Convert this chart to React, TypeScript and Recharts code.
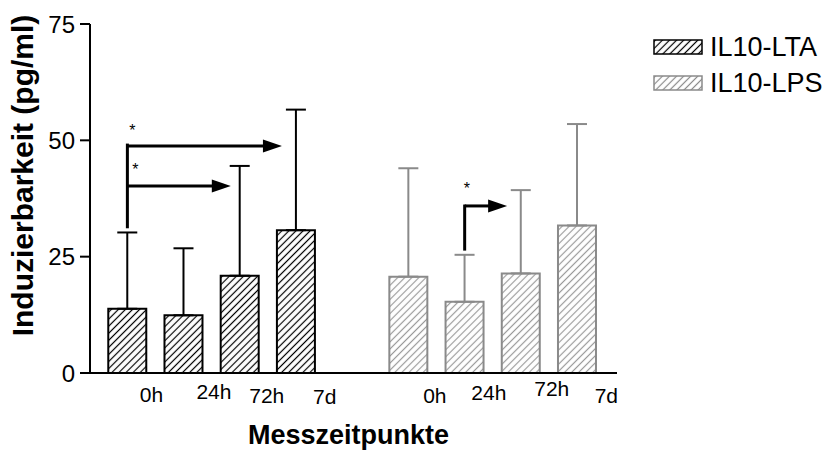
import React from 'react';
import { BarChart, Bar, XAxis, YAxis, ErrorBar, ReferenceLine, ReferenceDot, Legend, Label } from 'recharts';

const FONT = '"Liberation Sans", Arial, Helvetica, sans-serif';

// values
const timepoints = ['0h', '24h', '72h', '7d'];
const ltaPos = [0, 1, 2, 3];
const lpsPos = [5, 6, 7, 8];
const ltaMean = [13.8, 12.4, 20.9, 30.7];
const ltaSd = [16.4, 14.4, 23.6, 25.9];
const lpsMean = [20.7, 15.3, 21.4, 31.7];
const lpsSd = [23.3, 10.1, 17.9, 21.8];

const yTicks = [0, 25, 50, 75];
// x tick labels sit a bit off the bars in the original
const labelPos = [0.43, 1.54, 2.48, 3.51, 5.47, 6.43, 7.55, 8.52];
const labelText = [...timepoints, ...timepoints];
const labelDy = [21, 18, 22, 23, 22, 19, 15, 22];

// significance brackets
const stems = [
  { x: 0, y0: 31.1, y1: 49.3 },
  { x: 6, y0: 26.3, y1: 36.2 },
];
const arrows = [
  { x0: 0, x1: 2.75, y: 48.8 },
  { x0: 0, x1: 1.84, y: 40.2 },
  { x0: 6, x1: 6.755, y: 35.9 },
];
const stars = [
  { x: 0.09, y: 52.6 },
  { x: 0.14, y: 44.3 },
  { x: 6.04, y: 40.2 },
];

const data = [
  ...ltaPos.map((pos, i) => ({ pos, lta: ltaMean[i], ltaErr: [0, ltaSd[i]] })),
  ...lpsPos.map((pos, i) => ({ pos, lps: lpsMean[i], lpsErr: [0, lpsSd[i]] })),
];

const X_DOMAIN: [number, number] = [-0.665, 8.71];

const GRAY = '#8a8a8a';
const legendOrder = ['lta', 'lps'];

const Arrow = (props: any) => {
  const { x1, y1, x2, y2 } = props;
  const head = 19;
  const half = 6.5;
  return (
    <g>
      <line x1={x1} y1={y1} x2={x2 - head + 1} y2={y2} stroke="#000" strokeWidth={3} />
      <polygon points={`${x2},${y2} ${x2 - head},${y2 - half} ${x2 - head},${y2 + half}`} fill="#000" />
    </g>
  );
};

const Star = (props: any) => (
  <text x={props.cx} y={props.cy + 8} textAnchor="middle" fontSize={16} fontFamily={FONT} fill="#000">
    *
  </text>
);

const XTick = (props: any) => {
  const { x, y, index } = props;
  return (
    <text x={x} y={y + labelDy[index]} textAnchor="middle" fontSize={21} fontFamily={FONT} fill="#000">
      {labelText[index]}
    </text>
  );
};

const hatchColor: Record<string, string> = { lta: '#000', lps: GRAY };

const renderLegend = (props: any) => {
  const payload = [...(props.payload || [])].sort(
    (a: any, b: any) => legendOrder.indexOf(a.dataKey) - legendOrder.indexOf(b.dataKey)
  );
  return (
    <div style={{ fontFamily: FONT }}>
      {payload.map((entry: any) => {
        const c = hatchColor[entry.dataKey];
        const id = `lg-${entry.dataKey}`;
        return (
          <div key={entry.value} style={{ display: 'flex', alignItems: 'center', height: 36 }}>
            <svg width={50} height={16} style={{ marginRight: 7 }}>
              <defs>
                <pattern id={id} patternUnits="userSpaceOnUse" width="5" height="5" patternTransform="rotate(45)">
                  <line x1="2.5" y1="0" x2="2.5" y2="5" stroke={c} strokeWidth="1.2" />
                </pattern>
              </defs>
              <rect x={1} y={1} width={48} height={14} fill={`url(#${id})`} stroke={c} strokeWidth={1.5} />
            </svg>
            <span style={{ fontSize: 27, color: '#000', lineHeight: 1 }}>{entry.value}</span>
          </div>
        );
      })}
    </div>
  );
};

export default function App() {
  return (
    <div style={{ width: 832, height: 450, background: '#fff' }}>
      <style>{'body{margin:0}'}</style>
      <BarChart width={832} height={450} data={data} margin={{ top: 24, right: 215, bottom: 0, left: 0 }}>
        <defs>
          <pattern id="hatchLta" patternUnits="userSpaceOnUse" width="5" height="5" patternTransform="rotate(45)">
            <line x1="2.5" y1="0" x2="2.5" y2="5" stroke="#000" strokeWidth="1.2" />
          </pattern>
          <pattern id="hatchLps" patternUnits="userSpaceOnUse" width="5" height="5" patternTransform="rotate(45)">
            <line x1="2.5" y1="0" x2="2.5" y2="5" stroke="#9a9a9a" strokeWidth="1.2" />
          </pattern>
        </defs>
        <XAxis xAxisId="lps" dataKey="pos" type="number" domain={X_DOMAIN} allowDataOverflow hide height={0} />
        <XAxis
          xAxisId="lta"
          dataKey="pos"
          type="number"
          domain={X_DOMAIN}
          allowDataOverflow
          ticks={labelPos}
          interval={0}
          tick={<XTick />}
          tickLine={false}
          axisLine={{ stroke: '#000', strokeWidth: 2 }}
          height={77}
        >
          <Label
            content={(p: any) => {
              const vb = p.viewBox;
              return (
                <text x={vb.x + vb.width / 2 - 5} y={vb.y + 71} textAnchor="middle" fontSize={27} fontWeight="bold" fontFamily={FONT} fill="#000">
                  Messzeitpunkte
                </text>
              );
            }}
          />
        </XAxis>
        <YAxis
          domain={[0, 75]}
          ticks={yTicks}
          interval={0}
          width={90}
          tickSize={10}
          tickMargin={5}
          axisLine={{ stroke: '#000', strokeWidth: 2 }}
          tickLine={{ stroke: '#000', strokeWidth: 2 }}
          tick={{ fill: '#000', fontSize: 24, fontFamily: FONT }}
        >
          <Label
            content={(p: any) => {
              const vb = p.viewBox;
              const cx = vb.x + 33;
              const cy = vb.y + vb.height / 2 - 23;
              return (
                <text x={cx} y={cy} transform={`rotate(-90, ${cx}, ${cy})`} textAnchor="middle" fontSize={30} fontWeight="bold" fontFamily={FONT} fill="#000">
                  Induzierbarkeit (pg/ml)
                </text>
              );
            }}
          />
        </YAxis>
        <Bar xAxisId="lta" dataKey="lta" name="IL10-LTA" barSize={38} fill="url(#hatchLta)" stroke="#000" strokeWidth={2} isAnimationActive={false}>
          <ErrorBar dataKey="ltaErr" direction="y" width={10} stroke="#000" strokeWidth={2} isAnimationActive={false} />
        </Bar>
        <Bar xAxisId="lps" dataKey="lps" name="IL10-LPS" barSize={38} fill="url(#hatchLps)" stroke={GRAY} strokeWidth={2} isAnimationActive={false}>
          <ErrorBar dataKey="lpsErr" direction="y" width={10} stroke={GRAY} strokeWidth={2} isAnimationActive={false} />
        </Bar>
        {stems.map((s, i) => (
          <ReferenceLine
            key={`stem${i}`}
            xAxisId="lta"
            segment={[{ x: s.x, y: s.y0 }, { x: s.x, y: s.y1 }]}
            stroke="#000"
            strokeWidth={3}
          />
        ))}
        {arrows.map((a, i) => (
          <ReferenceLine
            key={`arr${i}`}
            xAxisId="lta"
            segment={[{ x: a.x0, y: a.y }, { x: a.x1, y: a.y }]}
            shape={Arrow}
          />
        ))}
        {stars.map((s, i) => (
          <ReferenceDot key={`star${i}`} xAxisId="lta" x={s.x} y={s.y} r={0} shape={Star} />
        ))}
        <Legend
          layout="vertical"
          align="center"
          verticalAlign="middle"
          wrapperStyle={{ top: 29, left: 653, width: 180 }}
          content={renderLegend}
        />
      </BarChart>
    </div>
  );
}
